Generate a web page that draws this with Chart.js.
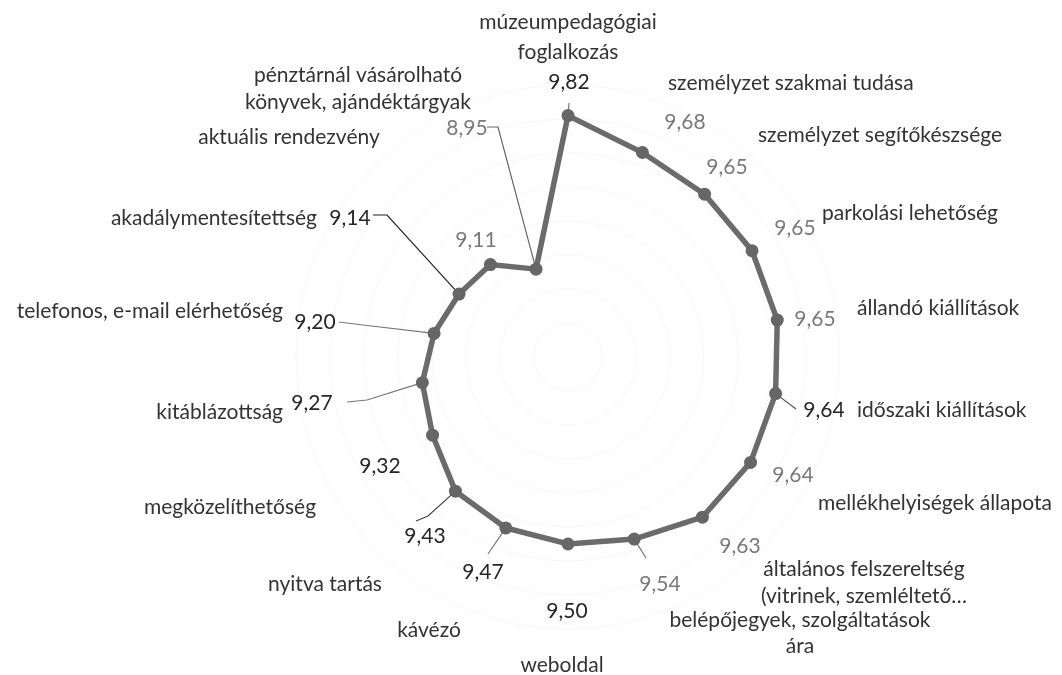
<!DOCTYPE html>
<html>
<head>
<meta charset="utf-8">
<script src="https://cdn.jsdelivr.net/npm/chart.js@4/dist/chart.umd.min.js"></script>
<style>
  html, body { margin: 0; padding: 0; background: #fff; }
  canvas { display: block; }
</style>
</head>
<body>
<canvas id="radarChart" width="1062" height="675"></canvas>
<script>
// ----------------------------
// Data
// ----------------------------
const categories = [
  ["múzeumpedagógiai", "foglalkozás"],
  ["személyzet szakmai tudása"],
  ["személyzet segítőkészsége"],
  ["parkolási lehetőség"],
  ["állandó kiállítások"],
  ["időszaki kiállítások"],
  ["mellékhelyiségek állapota"],
  ["általános felszereltség", "(vitrinek, szemléltető…"],
  ["belépőjegyek, szolgáltatások", "ára"],
  ["weboldal"],
  ["kávézó"],
  ["nyitva tartás"],
  ["megközelíthetőség"],
  ["kitáblázottság"],
  ["telefonos, e-mail elérhetőség"],
  ["akadálymentesítettség"],
  ["aktuális rendezvény"],
  ["pénztárnál vásárolható", "könyvek, ajándéktárgyak"]
];

const scores = [9.82, 9.68, 9.65, 9.65, 9.65, 9.64, 9.64, 9.63, 9.54,
                9.50, 9.47, 9.43, 9.32, 9.27, 9.20, 9.14, 9.11, 8.95];

const axisMin = 8.4;
const axisMax = 10.0;
const axisStep = 0.2;

// ----------------------------
// Label layout (offsets from the chart centre)
// ----------------------------
const catLayout = [
  { dx: 0,    dy: -335, align: "center", lh: 30 },
  { dx: 100,  dy: -274, align: "left" },
  { dx: 190,  dy: -222, align: "left" },
  { dx: 254,  dy: -144, align: "left" },
  { dx: 289,  dy: -49,  align: "left" },
  { dx: 289,  dy: 53,   align: "left" },
  { dx: 250,  dy: 146,  align: "left" },
  { dx: 296,  dy: 212,  align: "center", lh: 27 },
  { dx: 232,  dy: 263,  align: "center", lh: 26 },
  { dx: -6,   dy: 308,  align: "center" },
  { dx: -139, dy: 273,  align: "center" },
  { dx: -243, dy: 227,  align: "center" },
  { dx: -338, dy: 150,  align: "center" },
  { dx: -285, dy: 55,   align: "right" },
  { dx: -285, dy: -46,  align: "right" },
  { dx: -251, dy: -139, align: "right" },
  { dx: -279, dy: -220, align: "center" },
  { dx: -210, dy: -282, align: "center", lh: 27 }
];

const valLayout = [
  { dx: 1,    dy: -275, dark: true },
  { dx: 117,  dy: -235 },
  { dx: 159,  dy: -190 },
  { dx: 227,  dy: -129 },
  { dx: 247,  dy: -38 },
  { dx: 256,  dy: 53,  dark: true },
  { dx: 225,  dy: 118 },
  { dx: 172,  dy: 189 },
  { dx: 92,   dy: 227 },
  { dx: -1,   dy: 254, dark: true },
  { dx: -85,  dy: 215, dark: true },
  { dx: -143, dy: 179, dark: true },
  { dx: -188, dy: 109, dark: true },
  { dx: -256, dy: 46,  dark: true },
  { dx: -253, dy: -35, dark: true },
  { dx: -218, dy: -139, dark: true },
  { dx: -92,  dy: -117 },
  { dx: -101, dy: -229 }
];

// leader lines: start points (offsets from centre), they end on the data point
const leaders = {
  0:  { pts: [[1, -254]], color: "#777" },
  5:  { pts: [[228, 52]], color: "#555" },
  8:  { pts: [[78, 201]], color: "#777" },
  10: { pts: [[-80, 197]], color: "#777" },
  11: { pts: [[-152, 164], [-140, 159]], color: "#444" },
  13: { pts: [[-221, 45], [-201, 43]], color: "#777" },
  14: { pts: [[-229, -35], [-205, -32]], color: "#777" },
  15: { pts: [[-195, -142], [-181, -142]], color: "#222" },
  17: { pts: [[-81, -230], [-70, -230]], color: "#666" }
};

const FONT = '21px Lato, "Open Sans", sans-serif';

// ----------------------------
// Label plugin
// ----------------------------
const labelPlugin = {
  id: "radarLabels",
  beforeDatasetsDraw(chart) {
    const { ctx } = chart;
    const scale = chart.scales.r;
    const cx = scale.xCenter, cy = scale.yCenter;
    const meta = chart.getDatasetMeta(0);
    ctx.save();
    ctx.lineWidth = 1.2;
    Object.keys(leaders).forEach(k => {
      const l = leaders[k];
      const p = meta.data[k];
      ctx.strokeStyle = l.color;
      ctx.beginPath();
      l.pts.forEach((q, j) => {
        if (j === 0) ctx.moveTo(cx + q[0], cy + q[1]);
        else ctx.lineTo(cx + q[0], cy + q[1]);
      });
      ctx.lineTo(p.x, p.y);
      ctx.stroke();
    });
    ctx.restore();
  },
  afterDatasetsDraw(chart) {
    const { ctx } = chart;
    const scale = chart.scales.r;
    const cx = scale.xCenter, cy = scale.yCenter;
    ctx.save();
    ctx.font = FONT;
    ctx.textBaseline = "middle";

    categories.forEach((lines, i) => {
      const lay = catLayout[i];
      ctx.fillStyle = "#333";
      ctx.textAlign = lay.align;
      const lh = lay.lh || 28;
      lines.forEach((t, j) => ctx.fillText(t, cx + lay.dx, cy + lay.dy + j * lh));
    });

    scores.forEach((v, i) => {
      const lay = valLayout[i];
      ctx.fillStyle = lay.dark ? "#262626" : "#7a7a7a";
      ctx.textAlign = "center";
      ctx.fillText(v.toFixed(2).replace(".", ","), cx + lay.dx, cy + lay.dy);
    });
    ctx.restore();
  }
};

// ----------------------------
// Chart
// ----------------------------
const ctx = document.getElementById("radarChart").getContext("2d");
new Chart(ctx, {
  type: "radar",
  data: {
    labels: categories.map(c => c.join(" ")),
    datasets: [{
      data: scores,
      borderColor: "#6b6b6b",
      borderWidth: 5.5,
      pointRadius: 6.5,
      pointBackgroundColor: "#666",
      pointBorderWidth: 0,
      fill: false,
      tension: 0
    }]
  },
  options: {
    responsive: false,
    animation: false,
    layout: { padding: { left: 296, top: 85, right: 222, bottom: 46 } },
    plugins: { legend: { display: false }, tooltip: { enabled: false } },
    scales: {
      r: {
        min: axisMin,
        max: axisMax,
        ticks: { display: false, stepSize: axisStep },
        grid: { circular: true, color: "rgba(0,0,0,0.035)", lineWidth: 1 },
        angleLines: { display: false },
        pointLabels: { display: false }
      }
    }
  },
  plugins: [labelPlugin]
});
</script>
</body>
</html>
